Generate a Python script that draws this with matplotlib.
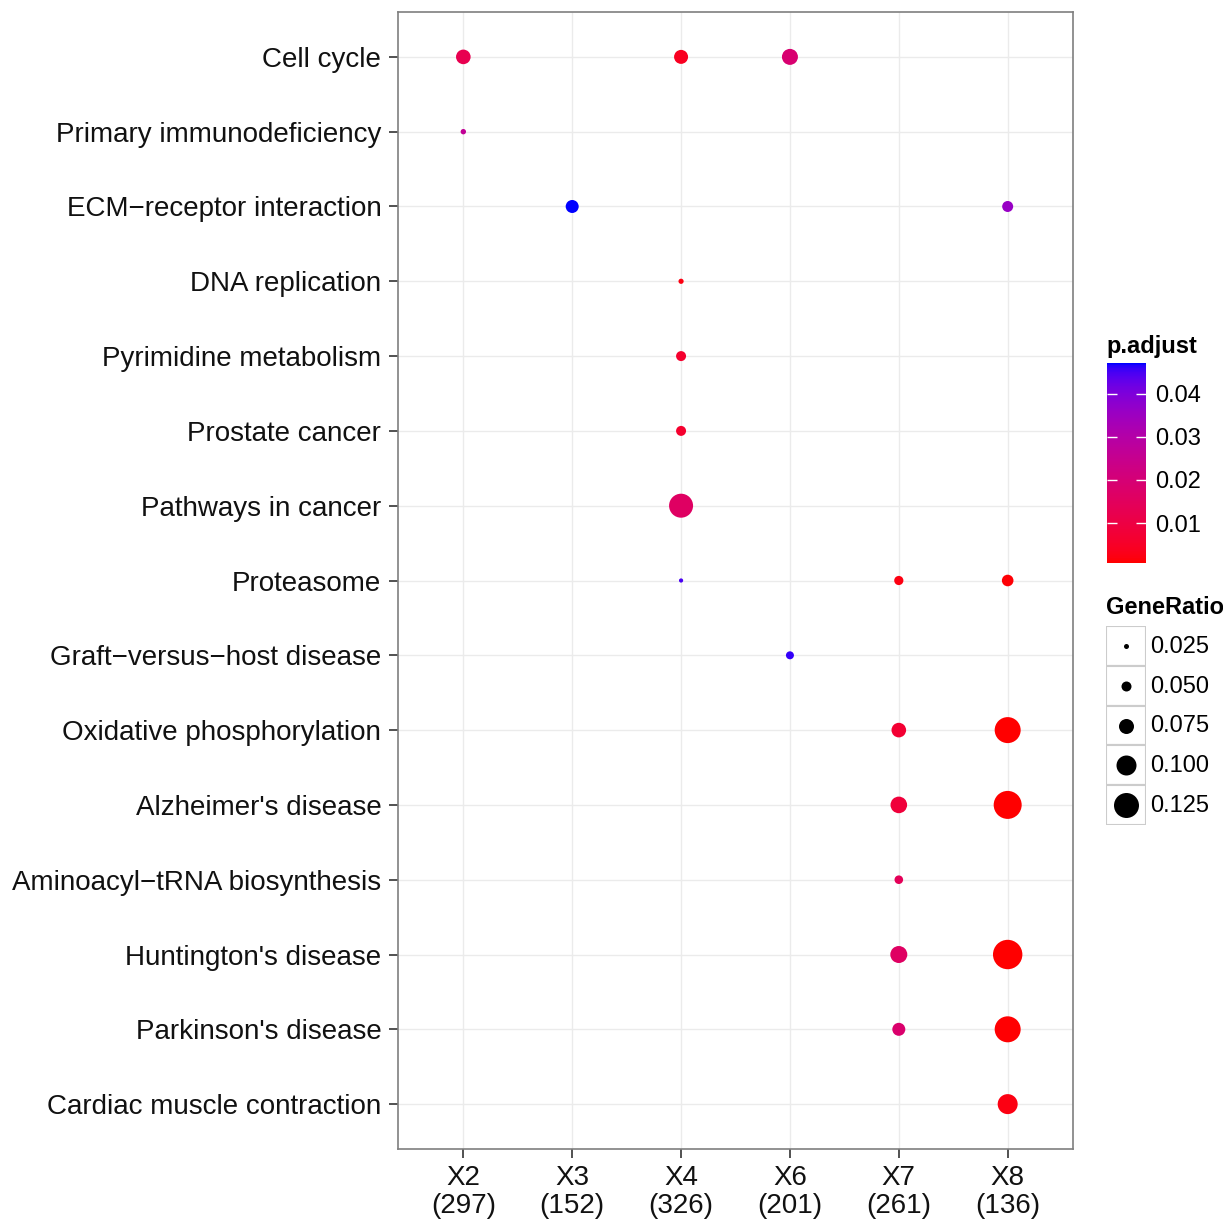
import numpy as np
import matplotlib
matplotlib.use("Agg")
import matplotlib.pyplot as plt
from matplotlib.colors import ListedColormap, Normalize
from matplotlib.patches import Rectangle
import matplotlib.colorbar as mcolorbar

plt.rcParams['font.family'] = ['Liberation Sans', 'DejaVu Sans']

# pathways, top to bottom
categories = ['Cell cycle', 'Primary immunodeficiency', 'ECM\u2212receptor interaction',
              'DNA replication', 'Pyrimidine metabolism', 'Prostate cancer',
              'Pathways in cancer', 'Proteasome', 'Graft\u2212versus\u2212host disease',
              'Oxidative phosphorylation', "Alzheimer's disease",
              'Aminoacyl\u2212tRNA biosynthesis', "Huntington's disease",
              "Parkinson's disease", 'Cardiac muscle contraction']
clusters = ['X2', 'X3', 'X4', 'X6', 'X7', 'X8']
cluster_counts = [297, 152, 326, 201, 261, 136]

# one entry per dot
pt_category = ['Cell cycle', 'Cell cycle', 'Cell cycle',
               'Primary immunodeficiency',
               'ECM\u2212receptor interaction', 'ECM\u2212receptor interaction',
               'DNA replication', 'Pyrimidine metabolism', 'Prostate cancer',
               'Pathways in cancer',
               'Proteasome', 'Proteasome', 'Proteasome',
               'Graft\u2212versus\u2212host disease',
               'Oxidative phosphorylation', 'Oxidative phosphorylation',
               "Alzheimer's disease", "Alzheimer's disease",
               'Aminoacyl\u2212tRNA biosynthesis',
               "Huntington's disease", "Huntington's disease",
               "Parkinson's disease", "Parkinson's disease",
               'Cardiac muscle contraction']
pt_cluster = ['X2', 'X4', 'X6',
              'X2',
              'X3', 'X8',
              'X4', 'X4', 'X4',
              'X4',
              'X4', 'X7', 'X8',
              'X6',
              'X7', 'X8',
              'X7', 'X8',
              'X7',
              'X7', 'X8',
              'X7', 'X8',
              'X8']
gene_ratio = [0.073, 0.070, 0.080,
              0.027,
              0.065, 0.055,
              0.026, 0.050, 0.050,
              0.120,
              0.021, 0.046, 0.058,
              0.040,
              0.073, 0.130,
              0.083, 0.140,
              0.043,
              0.085, 0.147,
              0.065, 0.130,
              0.100]
p_adjust = [0.0125, 0.0040, 0.0190,
            0.0265,
            0.0472, 0.0360,
            0.0020, 0.0060, 0.0060,
            0.0160,
            0.0450, 0.0020, 0.0012,
            0.0460,
            0.0070, 0.0007,
            0.0085, 0.0007,
            0.0140,
            0.0160, 0.0007,
            0.0180, 0.0010,
            0.0022]

legend_ratios = [0.025, 0.050, 0.075, 0.100, 0.125]
cbar_ticks = [0.01, 0.02, 0.03, 0.04]


# red -> blue gradient interpolated in Lab space (like ggplot2)
def srgb_to_lab(rgb):
    rgb = np.asarray(rgb, float)
    c = np.where(rgb <= 0.04045, rgb / 12.92, ((rgb + 0.055) / 1.055) ** 2.4)
    m = np.array([[0.4124, 0.3576, 0.1805], [0.2126, 0.7152, 0.0722], [0.0193, 0.1192, 0.9505]])
    xyz = m @ c / np.array([0.95047, 1.0, 1.08883])
    f = np.where(xyz > 0.008856, np.cbrt(xyz), 7.787 * xyz + 16 / 116)
    return np.array([116 * f[1] - 16, 500 * (f[0] - f[1]), 200 * (f[1] - f[2])])


def lab_to_srgb(lab):
    L, a, b = lab
    fy = (L + 16) / 116
    fx = fy + a / 500
    fz = fy - b / 200
    f = np.array([fx, fy, fz])
    xyz = np.where(f ** 3 > 0.008856, f ** 3, (f - 16 / 116) / 7.787) * np.array([0.95047, 1.0, 1.08883])
    minv = np.array([[3.2406, -1.5372, -0.4986], [-0.9689, 1.8758, 0.0415], [0.0557, -0.2040, 1.0570]])
    c = minv @ xyz
    c = np.where(c <= 0.0031308, 12.92 * c, 1.055 * np.clip(c, 0, None) ** (1 / 2.4) - 0.055)
    return np.clip(c, 0, 1)


lab_lo = srgb_to_lab([1, 0, 0])
lab_hi = srgb_to_lab([0, 0, 1])
cmap = ListedColormap([lab_to_srgb(lab_lo + t * (lab_hi - lab_lo)) for t in np.linspace(0, 1, 256)])
norm = Normalize(vmin=min(p_adjust), vmax=max(p_adjust))


def dot_size(r):
    # marker area in points^2
    return (144 * np.asarray(r)) ** 2


fig = plt.figure(figsize=(12.23, 12.20), dpi=100)
ax = fig.add_axes([398 / 1223, 1 - 1149 / 1220, 675 / 1223, 1137 / 1220])

xs = [clusters.index(c) + 1 for c in pt_cluster]
ys = [categories.index(c) + 1 for c in pt_category]
ax.scatter(xs, ys, s=dot_size(gene_ratio), c=p_adjust, cmap=cmap, norm=norm,
           linewidths=0, zorder=3)

ax.set_xlim(0.4, len(clusters) + 0.6)
ax.set_ylim(len(categories) + 0.6, 0.4)
ax.set_xticks(range(1, len(clusters) + 1))
ax.set_xticklabels([f'{c}\n({n})' for c, n in zip(clusters, cluster_counts)],
                   fontsize=20, linespacing=1.1)
ax.set_yticks(range(1, len(categories) + 1))
ax.set_yticklabels(categories, fontsize=20)
ax.tick_params(length=6.5, width=1.2, color='#333333', labelcolor='#111111')
ax.tick_params(axis='y', pad=5.5)
ax.tick_params(axis='x', pad=5)
ax.grid(True, color='#ebebeb', linewidth=1)
ax.set_axisbelow(True)
for sp in ax.spines.values():
    sp.set_color('#7f7f7f')
    sp.set_linewidth(1.2)

# colour bar legend
fig.text(1106 / 1223, 1 - 346 / 1220, 'p.adjust', fontsize=17, fontweight='bold', va='center')
cax = fig.add_axes([1107 / 1223, 1 - 563 / 1220, 39 / 1223, 200 / 1220])
cb = mcolorbar.ColorbarBase(cax, cmap=cmap, norm=norm, ticks=cbar_ticks)
cb.outline.set_visible(False)
cb.ax.tick_params(direction='in', color='white', length=7, width=1, left=True, right=True,
                  labelleft=False, labelright=True, labelsize=17, pad=6.5)
cb.ax.set_yticklabels([f'{t:.2f}' for t in cbar_ticks])

# size legend
fig.text(1106 / 1223, 1 - 607 / 1220, 'GeneRatio', fontsize=17, fontweight='bold', va='center')
kh = 39.8
lax = fig.add_axes([1106 / 1223, 1 - (626 + 5 * kh) / 1220, 40 / 1223, 5 * kh / 1220])
lax.set_xlim(0, 1)
lax.set_ylim(len(legend_ratios), 0)
lax.axis('off')
for i, r in enumerate(legend_ratios):
    lax.add_patch(Rectangle((0, i), 1, 1, facecolor='white', edgecolor='#cccccc', linewidth=1.5))
    lax.scatter([0.5], [i + 0.5], s=dot_size(r), color='black', linewidths=0, zorder=3)
    fig.text(1150 / 1223, 1 - (627 + (i + 0.5) * kh) / 1220, f'{r:.3f}', fontsize=17, va='center')

fig.savefig('out.png', dpi=100)
